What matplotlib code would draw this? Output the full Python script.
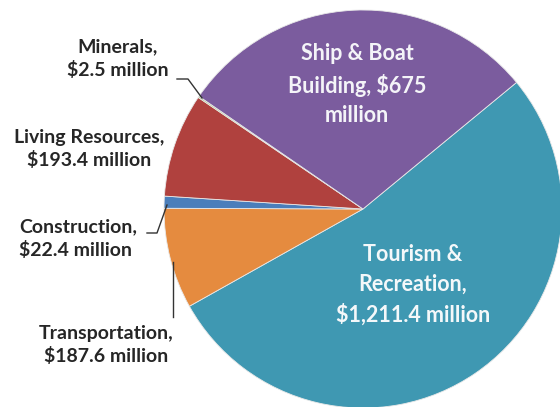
import matplotlib
matplotlib.use("Agg")
import matplotlib.pyplot as plt

categories = ["Tourism &\nRecreation,\n$1,211.4 million",
              "Transportation,\n$187.6 million",
              "Construction,\n$22.4 million",
              "Living Resources,\n$193.4 million",
              "Minerals,\n$2.5 million",
              "Ship & Boat\nBuilding, $675\nmillion"]
values = [1211.4, 187.6, 22.4, 193.4, 2.5, 675.0]
colors = ["#3F98B2", "#E58B3F", "#4A7EBB", "#B0413E", "#9BBB59", "#7B5C9E"]

W, H = 560, 407
fig = plt.figure(figsize=(W / 100, H / 100), dpi=100)
ax = fig.add_axes([0, 0, 1, 1])

cx, cy, r = 363, H - 209, 199
wedges, _ = ax.pie(values, colors=colors, startangle=39.5, counterclock=False,
                   center=(cx, cy), radius=r, frame=True,
                   wedgeprops=dict(edgecolor="#e8e8e8", linewidth=0.6))
ax.set_xlim(0, W)
ax.set_ylim(0, H)
ax.set_aspect("equal")
ax.axis("off")

font = ["Lato", "DejaVu Sans"]
def Y(y):
    return H - y

# inner labels
ax.text(413, Y(285), categories[0], ha="center", va="center", color="#F4F8FA",
        fontsize=15.5, fontweight="bold", family=font, linespacing=1.5)
ax.text(357, Y(85), categories[5], ha="center", va="center", color="#F4F4F8",
        fontsize=15.5, fontweight="bold", family=font, linespacing=1.5)

# outer labels
lc = "#262626"
ax.text(118, Y(59), categories[4], ha="center", va="center", color=lc,
        fontsize=14, fontweight="bold", family=font, linespacing=1.38)
ax.text(89, Y(149), categories[3], ha="center", va="center", color=lc,
        fontsize=14, fontweight="bold", family=font, linespacing=1.38)
ax.text(19, Y(239), categories[2], ha="left", va="center", color=lc,
        fontsize=14, fontweight="bold", family=font, linespacing=1.38)
ax.text(106, Y(345), categories[1], ha="center", va="center", color=lc,
        fontsize=14, fontweight="bold", family=font, linespacing=1.38)

# leader lines
ax.plot([177, 188, 202], [Y(79), Y(79), Y(98)], color="#333333", lw=1)
ax.plot([147, 157, 167], [Y(233), Y(233), Y(205)], color="#333333", lw=1)
ax.plot([173, 173], [Y(262), Y(317)], color="#333333", lw=1)

fig.savefig("out.png", dpi=100)
